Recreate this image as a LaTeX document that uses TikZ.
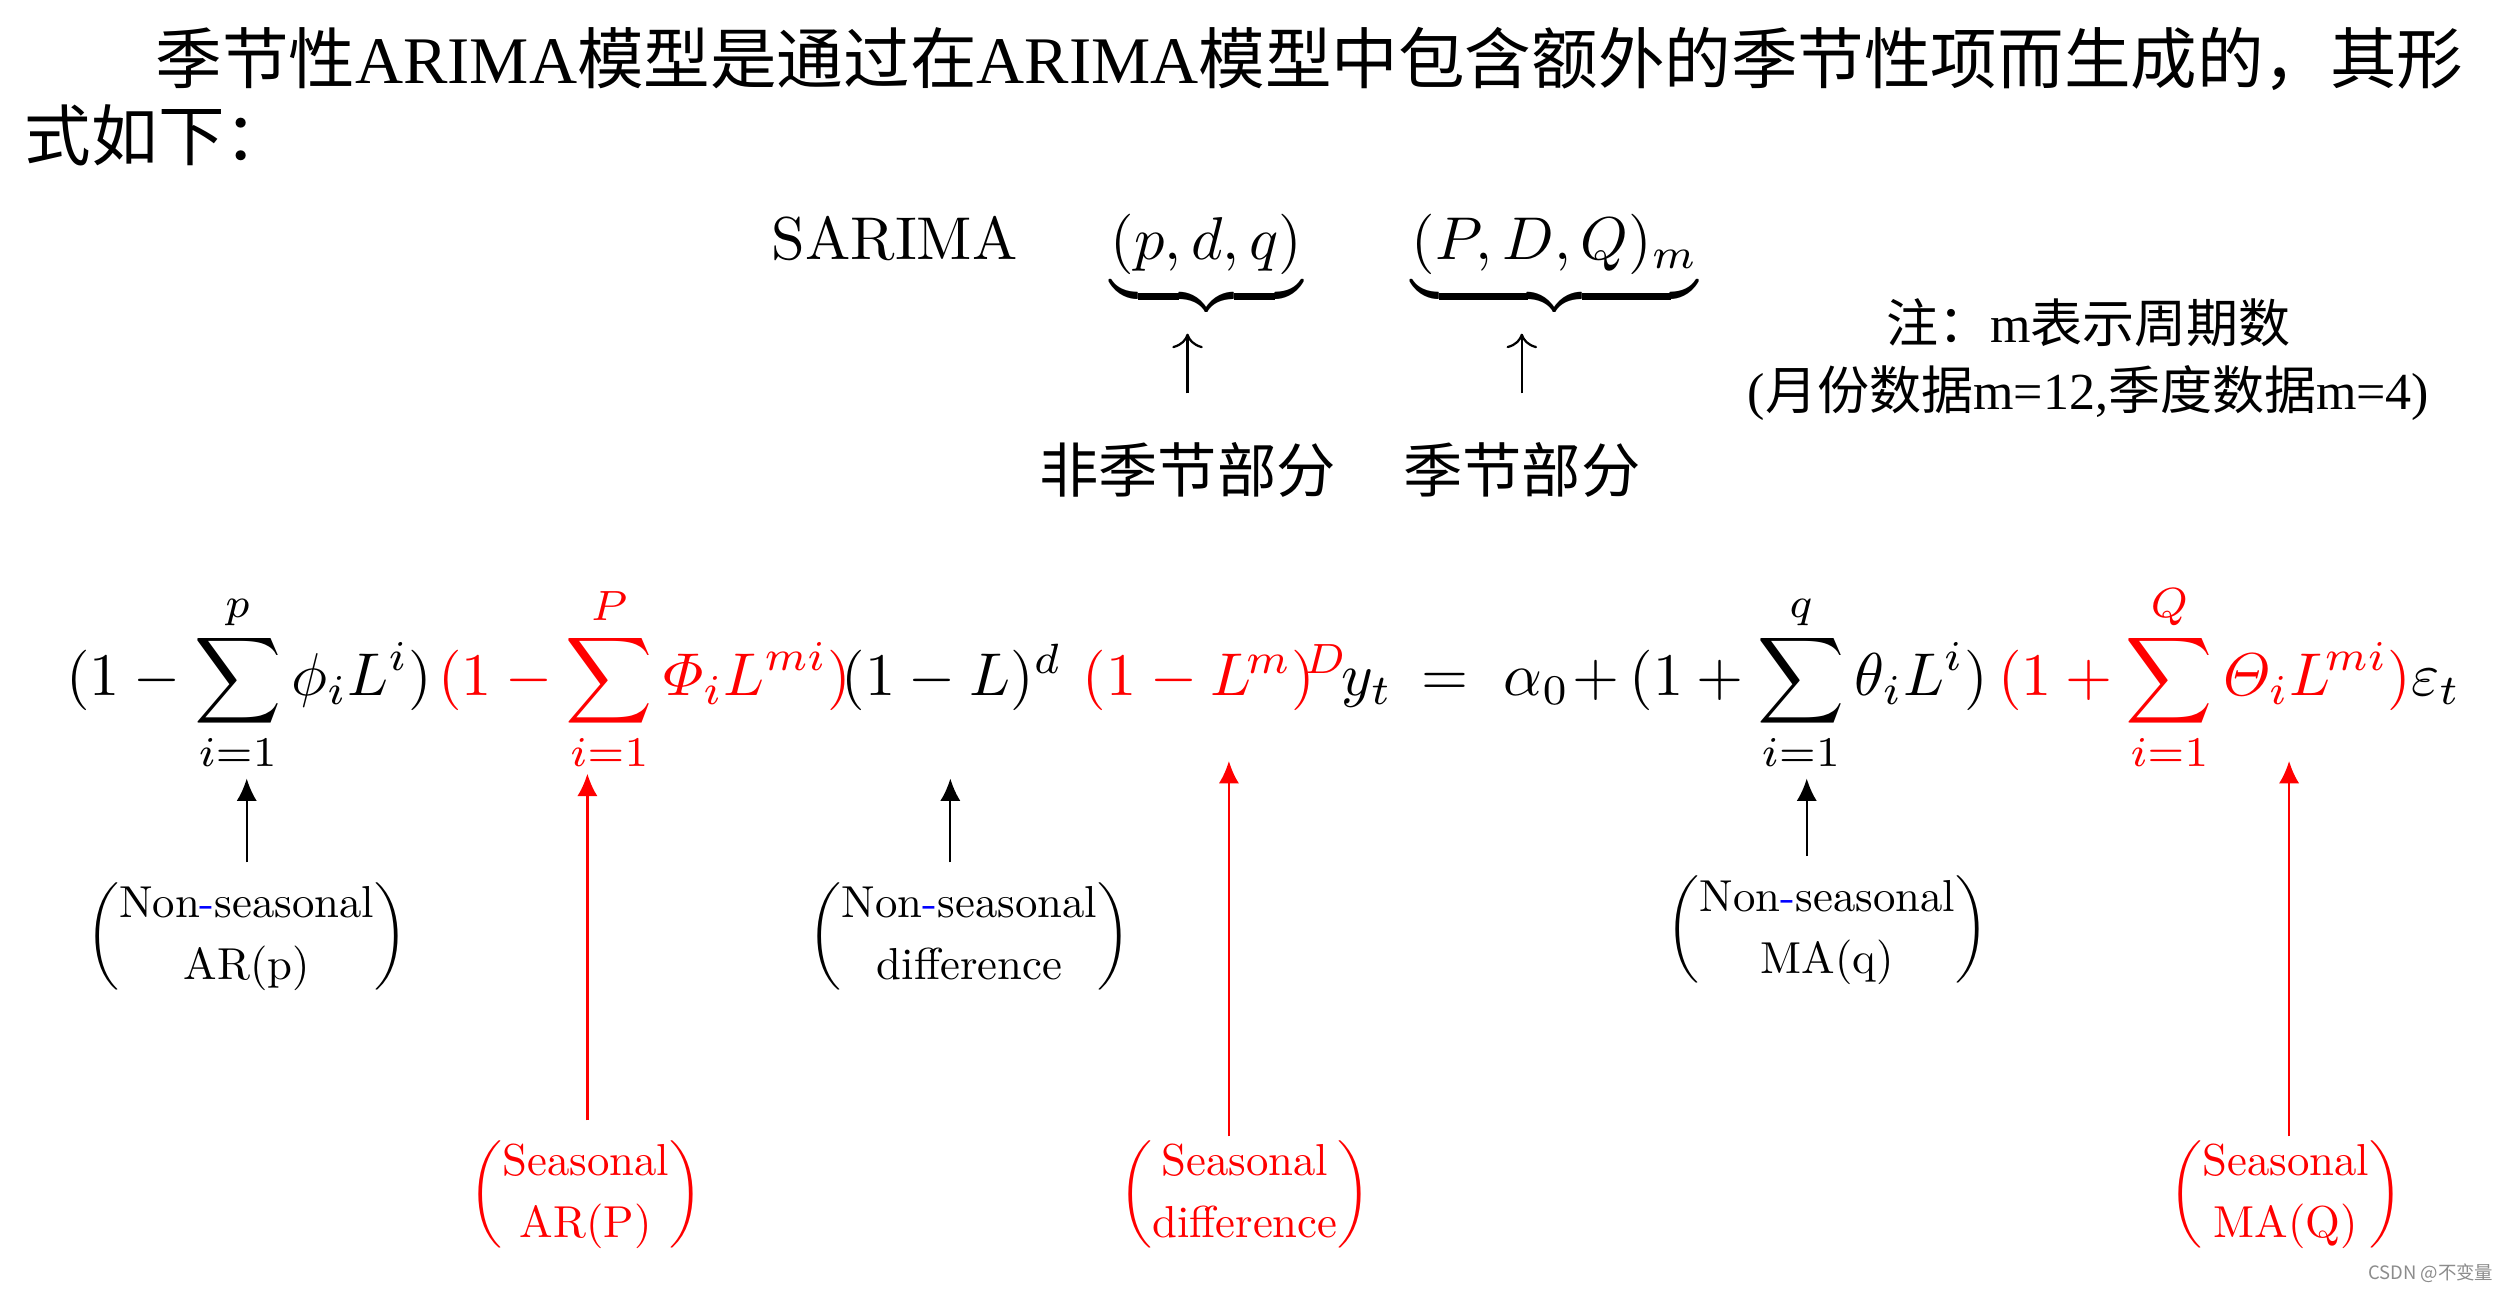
\documentclass[tikz,border=0pt]{standalone}
\usepackage{amsmath}
\usepackage{fontspec}
\newfontfamily\cjk{Noto Sans CJK SC}
\newfontfamily\tnr{Liberation Serif}
\usetikzlibrary{arrows.meta, positioning}
\delimiterfactor=850

\begin{document}
\begin{tikzpicture}[
    % Styles
    para/.style={anchor=west, inner sep=0pt, font=\cjk\fontsize{11.9}{14}\selectfont},
    note/.style={inner sep=0pt, font=\cjk\fontsize{9.3}{11}\selectfont},
    part/.style={inner sep=0pt, font=\cjk\fontsize{10.6}{12}\selectfont},
    model/.style={anchor=base west, inner sep=0pt, scale=1.08},
    term/.style={anchor=base west, inner sep=0pt, scale=1.08},
    redterm/.style={term, text=red},
    tag/.style={inner sep=0pt, outer sep=0.09cm, scale=0.8, font=\fontsize{10}{13.875}\selectfont},
    redtag/.style={tag, text=red},
    uparr/.style={-{To[length=2.6pt]}, line width=0.4pt},
    pointer/.style={-{Latex[length=4pt,width=3.6pt]}, line width=0.4pt},
    redpointer/.style={pointer, red}
]
    \path[use as bounding box, fill=white] (0,0) rectangle (15.68,-8.10);

    % Text above
    \node[para] (para1) at (0.97,-0.37) {季节性{\tnr ARIMA}模型是通过在{\tnr ARIMA}模型中包含额外的季节性项而生成的，其形};
    \node[para] (para2) at (0.15,-0.85) {式如下：};

    % SARIMA(p,d,q)(P,D,Q)m
    \node[model] (sarima) at (4.84,-1.63) {SARIMA};
    \node[model] (nspart) at (6.97,-1.63) {$\underbrace{(p,d,q)}$};
    \node[model] (spart) at (8.86,-1.63) {$\underbrace{(P,D,Q)_m}$};

    \node[part] (nstxt) at (7.46,-2.95) {非季节部分};
    \node[part] (stxt) at (9.56,-2.95) {季节部分};

    \draw[uparr, shorten <=0.3cm, shorten >=0.09cm] (nstxt.north) -- (nstxt.north |- nspart.south);
    \draw[uparr, shorten <=0.3cm, shorten >=0.09cm] (stxt.north) -- (stxt.north |- spart.south);

    % Note
    \node[note] (notea) at (13.12,-2.03) {注：{\tnr m}表示周期数};
    \node[note, below=0.1cm of notea] (noteb) {{\tnr (}月份数据{\tnr m=12,}季度数据{\tnr m=4)}};

    % The model equation, term by term
    \node[term] (nsarterm) at (0.41,-4.37) {$\displaystyle(1-\sum_{i=1}^{p}\phi_iL^i)$};
    \node[redterm] (sarterm) at (2.745,-4.37) {$\displaystyle(1-\sum_{i=1}^{P}\varPhi_iL^{mi})$};
    \node[term] (nsdiffterm) at (5.28,-4.37) {$(1-L)^d$};
    \node[redterm] (sdiffterm) at (6.795,-4.37) {$(1-L^{\mkern-2mu m})^{\mkern-4mu D}$};
    \node[term] (yt) at (8.42,-4.37) {$y_t$};
    \node[term] (eqsign) at (8.92,-4.37) {$=$};
    \node[term] (alpha) at (9.44,-4.37) {$\alpha_0$};
    \node[term] (plus) at (9.87,-4.37) {$+$};
    \node[term] (nsmaterm) at (10.23,-4.37) {$\displaystyle(1+\sum_{i=1}^{q}\theta_iL^i)$};
    \node[redterm] (smaterm) at (12.545,-4.37) {$\displaystyle(1+\sum_{i=1}^{Q}\varTheta_iL^{\mkern-2mu mi})$};
    \node[term] (eps) at (15.14,-4.37) {$\varepsilon_t$};

    % Arrow tips
    \coordinate (tnsar) at (1.55,-4.89);
    \coordinate (tsar) at (3.69,-4.86);
    \coordinate (tnsdiff) at (5.97,-4.89);
    \coordinate (tsdiff) at (7.72,-4.78);
    \coordinate (tnsma) at (11.35,-4.89);
    \coordinate (tsma) at (14.38,-4.78);

    % Labels
    \node[tag] (nsar) at (1.55,-5.88) {$\begin{pmatrix}\text{Non{\color{blue}-}seasonal}\\ \text{AR(p)}\end{pmatrix}$};
    \node[redtag] (sar) at (3.68,-7.50) {$\begin{pmatrix}\text{Seasonal}\\ \text{AR(P)}\end{pmatrix}$};
    \node[tag] (nsdiff) at (6.09,-5.88) {$\begin{pmatrix}\text{Non{\color{blue}-}seasonal}\\ \text{difference}\end{pmatrix}$};
    \node[redtag] (sdiff) at (7.82,-7.50) {$\begin{pmatrix}\text{Seasonal}\\ \text{difference}\end{pmatrix}$};
    \node[tag] (nsma) at (11.48,-5.84) {$\begin{pmatrix}\text{Non{\color{blue}-}seasonal}\\ \text{MA(q)}\end{pmatrix}$};
    \node[redtag] (sma) at (14.36,-7.50) {$\begin{pmatrix}\text{Seasonal}\\ \text{MA(Q)}\end{pmatrix}$};

    % Arrows
    \draw[pointer] (nsar.north -| tnsar) -- (tnsar);
    \draw[redpointer] (sar.north -| tsar) -- (tsar);
    \draw[pointer] (nsdiff.north -| tnsdiff) -- (tnsdiff);
    \draw[redpointer, shorten <=-0.1cm] (sdiff.north -| tsdiff) -- (tsdiff);
    \draw[pointer] (nsma.north -| tnsma) -- (tnsma);
    \draw[redpointer, shorten <=-0.1cm] (sma.north -| tsma) -- (tsma);

    % Watermark
    \node[inner sep=0pt, text=black!45, font=\cjk\fontsize{3.3}{4}\selectfont] (mark) at (15.27,-8.00) {CSDN @不变量};
\end{tikzpicture}
\end{document}
